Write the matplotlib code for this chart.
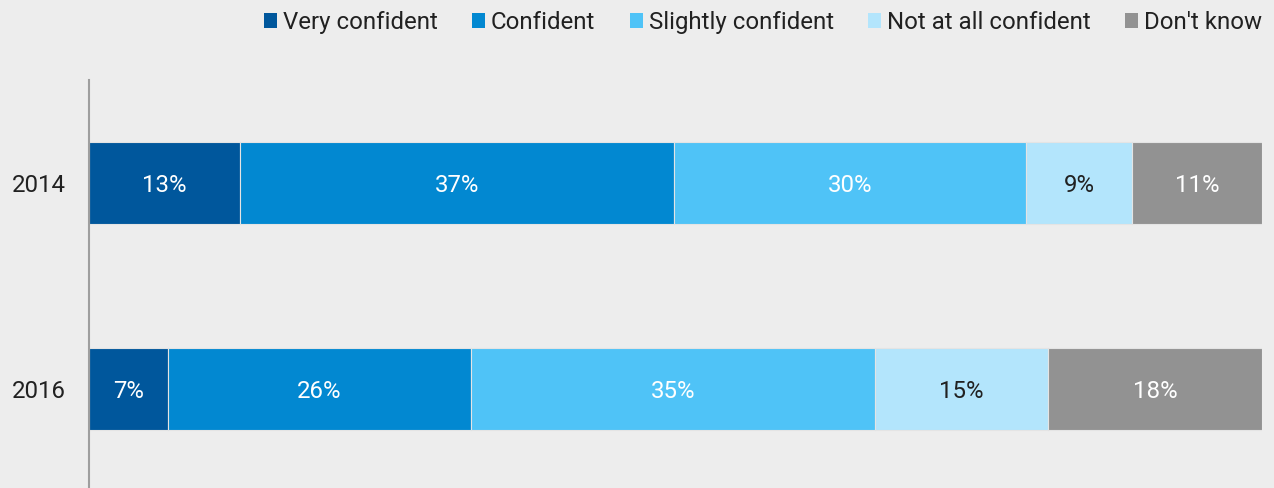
import matplotlib

matplotlib.use("Agg")
import matplotlib.pyplot as plt
from matplotlib.patches import Patch
import numpy as np

plt.rcParams["font.family"] = ["Roboto", "DejaVu Sans"]

years = ["2014", "2016"]
categories = ["Very confident", "Confident", "Slightly confident", "Not at all confident", "Don't know"]
values_2014 = [12.9, 37.0, 30.1, 9.0, 11.1]
values_2016 = [6.7, 25.8, 34.4, 14.7, 18.2]
labels_2014 = ["13%", "37%", "30%", "9%", "11%"]
labels_2016 = ["7%", "26%", "35%", "15%", "18%"]

colors = ["#00579c", "#0288d1", "#4fc3f7", "#b3e5fc", "#929292"]
label_colors = ["white", "white", "white", "#212121", "white"]
bg = "#ededed"
fs = 17.3

data = np.array([values_2014, values_2016])
data = data / data.sum(axis=1, keepdims=True) * 100
labels = [labels_2014, labels_2016]

fig = plt.figure(figsize=(12.74, 4.88), dpi=100, facecolor=bg)
ax = fig.add_axes([89 / 1274, 0, (1262 - 89) / 1274, 408 / 488], facecolor=bg)

y = np.arange(len(years))
left = np.zeros(len(years))
for j, cat in enumerate(categories):
    ax.barh(y, data[:, j], left=left, height=0.4, color=colors[j],
            edgecolor="#e4e4e4", linewidth=0.8, label=cat)
    for i in range(len(years)):
        ax.text(left[i] + data[i, j] / 2, y[i], labels[i][j], ha="center",
                va="center_baseline", fontsize=fs, color=label_colors[j])
    left += data[:, j]

ax.set_xlim(0, 100)
ax.set_ylim(1.48, -0.5)
ax.set_yticks(y)
ax.set_yticklabels(years, fontsize=fs, color="#212121", va="center_baseline")
ax.tick_params(axis="y", length=0, pad=16.5)
ax.set_xticks([])
for side in ["top", "right", "bottom"]:
    ax.spines[side].set_visible(False)
ax.spines["left"].set_color("#9e9e9e")
ax.spines["left"].set_linewidth(1.5)

handles = [Patch(facecolor=c, edgecolor="none", label=cat) for c, cat in zip(colors, categories)]
fig.legend(handles=handles, loc="upper right", bbox_to_anchor=(1284 / 1274, 1.022), ncol=5,
           frameon=False, fontsize=fs, handlelength=0.55, handleheight=0.55,
           handletextpad=0.25, columnspacing=1.42, labelcolor="#212121")

fig.savefig("out.png", dpi=100, facecolor=bg)
